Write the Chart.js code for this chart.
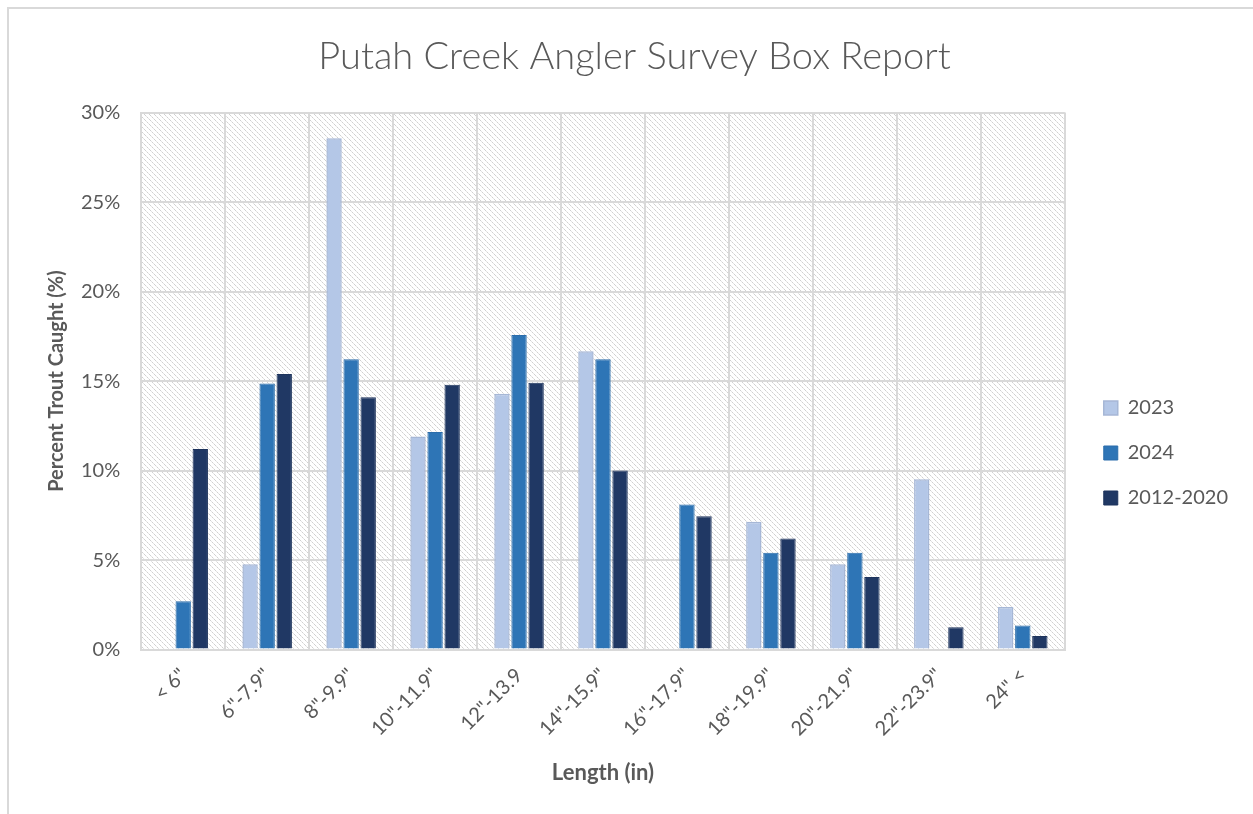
<!DOCTYPE html>
<html>
<head>
<meta charset="utf-8">
<title>Putah Creek Angler Survey Box Report</title>
<script src="https://cdn.jsdelivr.net/npm/chart.js@4.4.1/dist/chart.umd.min.js"></script>
<style>
  html, body { margin: 0; padding: 0; background: #fff; }
  #wrap { width: 1253px; height: 814px; }
</style>
</head>
<body>
<div id="wrap"><canvas id="troutChart" width="1253" height="814"></canvas></div>
<script>
// length classes on the x axis
const lengthClasses = ['< 6"', '6"-7.9"', '8"-9.9"', '10"-11.9"', '12"-13.9', '14"-15.9"',
                       '16"-17.9"', '18"-19.9"', '20"-21.9"', '22"-23.9"', '24" <'];

// percent of trout caught per class
const pct2023 = [0, 4.76, 28.57, 11.90, 14.29, 16.67, 0, 7.14, 4.76, 9.52, 2.38];
const pct2024 = [2.70, 14.86, 16.22, 12.16, 17.57, 16.22, 8.11, 5.41, 5.41, 0, 1.35];
const pct2012to2020 = [11.2, 15.4, 14.1, 14.8, 14.9, 10.0, 7.45, 6.2, 4.05, 1.25, 0.75];

const yTicks = [0, 5, 10, 15, 20, 25, 30];

const grey = '#595959';
const gridGrey = '#d9d9d9';

Chart.defaults.font.family = 'Lato';

// diagonal dotted hatch tile for the plot area
const hatch = (() => {
    const c = document.createElement('canvas');
    c.width = 5;
    c.height = 5;
    const g = c.getContext('2d');
    for (let i = 0; i < 5; i++) {
        g.fillStyle = i % 2 ? '#e4e4e4' : '#d0d0d0';
        g.fillRect(i, i, 1, 1);
    }
    return c;
})();

const plotBackdrop = {
    id: 'plotBackdrop',
    beforeDraw(chart) {
        const { ctx, chartArea: a } = chart;
        ctx.save();
        ctx.fillStyle = ctx.createPattern(hatch, 'repeat');
        ctx.fillRect(a.left, a.top, a.width, a.height);
        ctx.restore();
    }
};

// move the legend down a bit, like the excel one
const legendNudge = {
    id: 'legendNudge',
    afterLayout(chart) {
        const lg = chart.legend;
        lg.left += 14;
        lg.right += 14;
        lg.top += 60;
        lg.bottom += 60;
    }
};

// the outer chart frame (top + left edge visible)
const frame = {
    id: 'frame',
    afterDraw(chart) {
        const { ctx, width, height } = chart;
        ctx.save();
        ctx.strokeStyle = gridGrey;
        ctx.lineWidth = 2;
        ctx.beginPath();
        ctx.moveTo(8, height);
        ctx.lineTo(8, 8);
        ctx.lineTo(width, 8);
        ctx.stroke();
        ctx.restore();
    }
};

new Chart(document.getElementById('troutChart'), {
    type: 'bar',
    data: {
        labels: lengthClasses,
        datasets: [
            { label: '2023', data: pct2023, backgroundColor: '#b4c7e7', borderColor: '#a6b7d6', borderWidth: 1.5 },
            { label: '2024', data: pct2024, backgroundColor: '#2e75b6', borderColor: '#2b6dab', borderWidth: 1 },
            { label: '2012-2020', data: pct2012to2020, backgroundColor: '#203864', borderColor: '#1d335c', borderWidth: 1 }
        ]
    },
    options: {
        responsive: false,
        animation: false,
        devicePixelRatio: 1,
        categoryPercentage: 0.61,
        barPercentage: 0.9,
        layout: { padding: { left: 45, right: 29, top: 0, bottom: 28 } },
        plugins: {
            title: {
                display: true,
                text: 'Putah Creek Angler Survey Box Report',
                color: grey,
                font: { size: 38, weight: '300' },
                padding: { top: 34, bottom: 33 }
            },
            legend: {
                position: 'right',
                labels: {
                    color: grey,
                    font: { size: 20 },
                    boxWidth: 14,
                    boxHeight: 14,
                    padding: 25
                }
            },
            tooltip: { enabled: false }
        },
        scales: {
            x: {
                grid: { color: gridGrey, lineWidth: 2, drawTicks: false },
                border: { color: gridGrey, width: 2 },
                ticks: {
                    color: grey,
                    font: { size: 20 },
                    minRotation: 45,
                    maxRotation: 45,
                    padding: 14
                },
                title: {
                    display: true,
                    text: 'Length (in)',
                    color: grey,
                    font: { size: 22, weight: 'bold' },
                    padding: { top: 5, bottom: 0 }
                }
            },
            y: {
                min: yTicks[0],
                max: yTicks[yTicks.length - 1],
                afterBuildTicks: axis => { axis.ticks = yTicks.map(v => ({ value: v })); },
                grid: { color: gridGrey, lineWidth: 2, drawTicks: false },
                border: { color: gridGrey, width: 2 },
                ticks: {
                    color: grey,
                    font: { size: 20 },
                    padding: 21,
                    callback: v => v + '%'
                },
                title: {
                    display: true,
                    text: 'Percent Trout Caught (%)',
                    color: grey,
                    font: { size: 20, weight: 'bold' },
                    padding: { top: 0, bottom: -9 }
                }
            }
        }
    },
    plugins: [plotBackdrop, legendNudge, frame]
});
</script>
</body>
</html>
